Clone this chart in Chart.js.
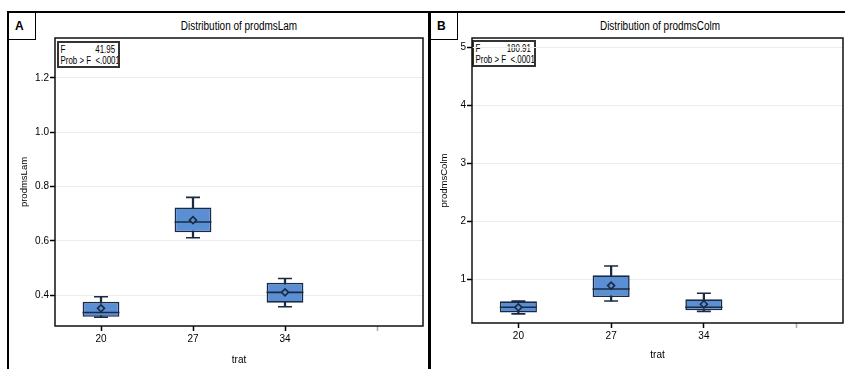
<!DOCTYPE html>
<html>
<head>
<meta charset="utf-8">
<script src="https://cdn.jsdelivr.net/npm/chart.js@4.4.1/dist/chart.umd.min.js"></script>
<style>
    body { margin: 0; background: #fff; width: 845px; height: 369px; overflow: hidden; position: relative;
           font-family: 'Liberation Sans', Arial, sans-serif; }
    .panel { position: absolute; top: 11px; height: 400px; border: 2px solid #000; box-sizing: border-box; }
    .tag { position: absolute; top: 11px; height: 29px; border: 1.5px solid #000; box-sizing: border-box;
           font-weight: bold; font-size: 12px; padding: 7px 0 0 7px; }
    .title { position: absolute; top: 19px; font-size: 12px; white-space: nowrap; color: #000;
             transform: translateX(-50%) scaleX(0.83); }
    .stats { position: absolute; border: 2px solid #333; box-sizing: border-box; background: #fff; overflow: hidden; }
    .stats div { font-size: 10px; line-height: 11px; padding: 1px 2px;
                 transform: scaleX(0.79); transform-origin: left top; white-space: nowrap; }
    .stats span { float: right; }
    canvas { position: absolute; }
</style>
</head>
<body>
<div class="panel" style="left:7px; width:423px;"></div>
<div class="panel" style="left:429px; width:430px;"></div>
<div class="tag" style="left:7px; width:29px;">A</div>
<div class="tag" style="left:429px; width:29px;">B</div>
<div class="title" style="left:239px;">Distribution of prodmsLam</div>
<div class="title" style="left:660px;">Distribution of prodmsColm</div>
<div class="stats" style="left:57px; top:41px; width:63px; height:27px;"><div style="width:69px;">F <span>41.95</span><br>Prob &gt; F &nbsp;&lt;.0001</div></div>
<div class="stats" style="left:472px; top:40px; width:64px; height:27px;"><div style="width:70px;">F <span>180.91</span><br>Prob &gt; F &nbsp;&lt;.0001</div></div>
<div style="position:absolute; left:12px; top:14px; width:414px; height:355px;"><canvas id="chartA"></canvas></div>
<div style="position:absolute; left:432px; top:14px; width:413px; height:355px;"><canvas id="chartB"></canvas></div>

<script>
// categories (last one is an empty slot, as in the original plot)
const trat = ['20', '27', '34', ''];

// prodmsLam
const lamMin = [0.318, 0.611, 0.357, null];
const lamQ1 = [0.320, 0.631, 0.372, null];
const lamMed = [0.336, 0.669, 0.410, null];
const lamMean = [0.351, 0.676, 0.410, null];
const lamQ3 = [0.375, 0.723, 0.445, null];
const lamMax = [0.394, 0.760, 0.461, null];
const lamTicks = [0.4, 0.6, 0.8, 1.0, 1.2];

// prodmsColm
const colmMin = [0.41, 0.632, 0.454, null];
const colmQ1 = [0.432, 0.70, 0.472, null];
const colmMed = [0.523, 0.838, 0.523, null];
const colmMean = [0.523, 0.897, 0.575, null];
const colmQ3 = [0.627, 1.074, 0.661, null];
const colmMax = [0.63, 1.234, 0.764, null];
const colmTicks = [1, 2, 3, 4, 5];

const boxFill = '#5b8fd4';
const boxLine = '#1a2a45';

Chart.defaults.font.family = "'Liberation Sans', Arial, sans-serif";
Chart.defaults.color = '#000';

const framePlugin = {
    id: 'frame',
    afterDraw(chart) {
        const a = chart.chartArea;
        const ctx = chart.ctx;
        ctx.save();
        ctx.strokeStyle = '#111';
        ctx.lineWidth = 1.5;
        ctx.strokeRect(a.left, a.top, a.right - a.left, a.bottom - a.top);
        ctx.restore();
    }
};

function pairs(lo, hi) {
    return lo.map((v, i) => v === null ? null : [v, hi[i]]);
}

function pointSet(data, style, radius, order) {
    return {
        type: 'line', data: data, showLine: false, order: order,
        pointStyle: style, pointRadius: radius,
        pointBorderColor: boxLine, pointBackgroundColor: boxFill, pointBorderWidth: 1.6
    };
}

function makeBoxChart(id, s, opts) {
    new Chart(document.getElementById(id), {
        type: 'bar',
        data: {
            labels: trat,
            datasets: [
                { data: pairs(s.min, s.max), backgroundColor: boxLine, barThickness: 1.6,
                  grouped: false, order: 5 },
                { data: pairs(s.q1, s.q3), backgroundColor: boxFill, borderColor: boxLine,
                  borderWidth: 1.6, borderSkipped: false, grouped: false,
                  barPercentage: 0.4, categoryPercentage: 1, order: 4 },
                pointSet(s.max, 'line', 7, 3),
                pointSet(s.min, 'line', 7, 3),
                pointSet(s.med, 'line', opts.medR, 2),
                pointSet(s.mean, 'rectRot', 3.5, 1)
            ]
        },
        options: {
            responsive: true,
            maintainAspectRatio: false,
            animation: false,
            events: [],
            layout: { padding: opts.padding, autoPadding: false },
            plugins: { legend: { display: false }, tooltip: { enabled: false } },
            scales: {
                x: {
                    grid: { display: true, drawOnChartArea: false, offset: false, tickLength: 5,
                            tickColor: c => c.index === 3 ? '#aaa' : '#000', tickWidth: 1.5 },
                    border: { display: false },
                    ticks: { font: { size: 10 }, padding: opts.xTickPad },
                    title: { display: true, text: 'trat', font: { size: 10 },
                             padding: { top: 0, bottom: opts.xTitlePad } },
                    afterFit: sc => { sc.height = opts.xHeight; }
                },
                y: {
                    min: opts.min, max: opts.max,
                    afterBuildTicks: sc => { sc.ticks = opts.ticks.map(v => ({ value: v })); },
                    grid: { color: '#ececec', lineWidth: 1, tickLength: 5, tickColor: '#000', tickWidth: 1.5 },
                    border: { display: false },
                    ticks: { font: { size: 10 }, padding: 1, callback: opts.fmt },
                    title: { display: true, text: opts.yTitle, font: { size: 9.5 },
                             padding: { top: 7, bottom: 0 } },
                    afterFit: sc => { sc.width = opts.yWidth; }
                }
            }
        },
        plugins: [framePlugin]
    });
}

makeBoxChart('chartA',
    { min: lamMin, q1: lamQ1, med: lamMed, mean: lamMean, q3: lamQ3, max: lamMax },
    { padding: { left: 0, top: 24, right: 3, bottom: 0 }, yWidth: 43, xHeight: 43,
      xTickPad: 2, xTitlePad: 3, min: 0.286, max: 1.347, ticks: lamTicks,
      fmt: v => v.toFixed(1), yTitle: 'prodmsLam', medR: 18.4 });

makeBoxChart('chartB',
    { min: colmMin, q1: colmQ1, med: colmMed, mean: colmMean, q3: colmQ3, max: colmMax },
    { padding: { left: 0, top: 24, right: 2, bottom: 0 }, yWidth: 40, xHeight: 46,
      xTickPad: 2, xTitlePad: 8, min: 0.253, max: 5.16, ticks: colmTicks,
      fmt: v => String(v), yTitle: 'prodmsColm', medR: 18.6 });
</script>
</body>
</html>
